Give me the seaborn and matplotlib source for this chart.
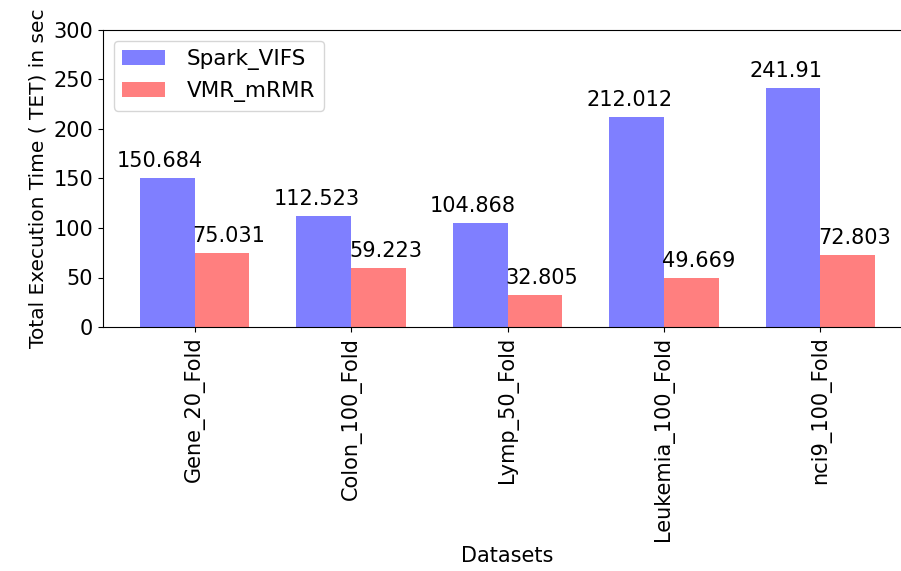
import matplotlib
matplotlib.use('Agg')
import matplotlib.pyplot as plt
import pandas as pd
import seaborn as sns

datasets = ['Gene_20_Fold', 'Colon_100_Fold', 'Lymp_50_Fold', 'Leukemia_100_Fold', 'nci9_100_Fold']
spark_vifs = [150.684, 112.523, 104.868, 212.012, 241.91]
vmr_mrmr = [75.031, 59.223, 32.805, 49.669, 72.803]
methods = ['Spark_VIFS', 'VMR_mRMR']

df = pd.DataFrame({'Datasets': datasets * 2,
                   'TET': spark_vifs + vmr_mrmr,
                   'Method': [methods[0]] * 5 + [methods[1]] * 5})

plt.rcParams['font.family'] = ['DejaVu Sans']
fig = plt.figure(figsize=(9.01, 5.71), dpi=100)
# axes runs off the right edge like the cropped original
ax = fig.add_axes([103 / 901, 1 - 327 / 571, (912 - 103) / 901, (327 - 30) / 571])

sns.barplot(data=df, x='Datasets', y='TET', hue='Method', palette=['blue', 'red'],
            alpha=0.5, width=0.7, linewidth=0, saturation=1, ax=ax)

for i in range(len(datasets)):
    ax.text(i - 0.22, spark_vifs[i] + 11, str(spark_vifs[i]), ha='center', fontsize=15)
    ax.text(i + 0.22, vmr_mrmr[i] + 11, str(vmr_mrmr[i]), ha='center', fontsize=15)

ax.set_xlim(-0.585, 4.585)
ax.set_ylim(0, 300)
ax.set_yticks([0, 50, 100, 150, 200, 250, 300])
ax.tick_params(axis='both', labelsize=15)
plt.setp(ax.get_xticklabels(), rotation=90)
ax.set_xlabel('Datasets', fontsize=15)
ax.set_ylabel('Total Execution Time ( TET) in sec', fontsize=14.5)
ax.legend(loc='upper left', fontsize=15.5, handletextpad=1.0)

fig.savefig('out.png', dpi=100)
